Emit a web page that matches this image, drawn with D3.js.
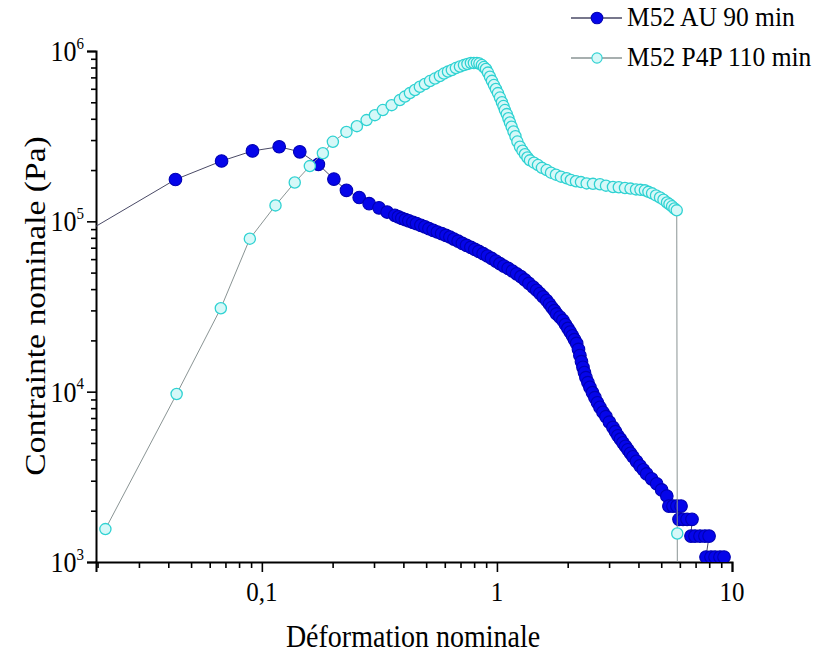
<!DOCTYPE html>
<html>
<head>
<meta charset="utf-8">
<script src="https://cdn.jsdelivr.net/npm/d3@7"></script>
<style>
  html, body { margin: 0; padding: 0; background: #fff; }
  svg { display: block; }
  text { font-family: "Liberation Serif", "Times New Roman", serif; fill: #000; }
</style>
</head>
<body>
<svg id="chart" width="817" height="660"></svg>
<script>
// ---------- data (strain, stress in Pa) ----------
const seriesNames = ["M52 AU 90 min", "M52 P4P 110 min"];

const auStrain = [0.0175, 0.0429, 0.0674, 0.0912, 0.1185, 0.145, 0.174, 0.2025, 0.229, 0.2595,
  0.286, 0.315, 0.341, 0.368, 0.381, 0.394, 0.408, 0.422, 0.439, 0.455,
  0.475, 0.494, 0.514, 0.536, 0.558, 0.582, 0.607, 0.631, 0.656, 0.684,
  0.713, 0.743, 0.775, 0.806, 0.838, 0.874, 0.911, 0.949, 0.990, 1.03,
  1.071, 1.117, 1.164, 1.213, 1.265, 1.316, 1.368, 1.427, 1.476, 1.524,
  1.574, 1.628, 1.673, 1.714, 1.757, 1.795, 1.854, 1.909, 1.957, 2.005,
  2.051, 2.095, 2.138, 2.184, 2.223, 2.254, 2.289, 2.323, 2.357, 2.392,
  2.439, 2.487, 2.55, 2.612, 2.678, 2.743, 2.825, 2.91, 3.01, 3.116,
  3.194, 3.27, 3.354, 3.436, 3.523, 3.607, 3.70, 3.79, 3.924, 4.06,
  4.195, 4.335, 4.55, 4.78, 5.02, 5.28,
  5.39, 5.61, 5.83, 6.07,
  5.95, 6.19, 6.44, 6.76,
  6.69, 6.96, 7.31, 7.67, 7.99,
  7.75, 8.14, 8.47, 8.89, 9.25];
const auStress = [8.5e4, 1.76e5, 2.26e5, 2.59e5, 2.74e5, 2.56e5, 2.16e5, 1.77e5, 1.52e5, 1.38e5,
  1.27e5, 1.2e5, 1.134e5, 1.085e5, 1.063e5, 1.04e5, 1.023e5, 1.007e5, 9.87e4, 9.7e4,
  9.47e4, 9.29e4, 9.06e4, 8.85e4, 8.66e4, 8.47e4, 8.27e4, 8.09e4, 7.87e4, 7.65e4,
  7.42e4, 7.22e4, 7.03e4, 6.84e4, 6.66e4, 6.46e4, 6.26e4, 6.06e4, 5.84e4, 5.64e4,
  5.46e4, 5.29e4, 5.11e4, 4.92e4, 4.73e4, 4.53e4, 4.32e4, 4.11e4, 3.94e4, 3.77e4,
  3.6e4, 3.43e4, 3.27e4, 3.12e4, 2.99e4, 2.86e4, 2.74e4, 2.62e4, 2.48e4, 2.35e4,
  2.24e4, 2.13e4, 2.02e4, 1.92e4, 1.77e4, 1.63e4, 1.50e4, 1.39e4, 1.294e4, 1.209e4,
  1.13e4, 1.06e4, 9.86e3, 9.22e3, 8.61e3, 8.09e3, 7.57e3, 7.13e3, 6.62e3, 6.17e3,
  5.82e3, 5.51e3, 5.26e3, 5.01e3, 4.78e3, 4.56e3, 4.35e3, 4.15e3, 3.90e3, 3.67e3,
  3.48e3, 3.29e3, 3.08e3, 2.88e3, 2.65e3, 2.44e3,
  2.13e3, 2.13e3, 2.13e3, 2.13e3,
  1.78e3, 1.78e3, 1.78e3, 1.78e3,
  1.42e3, 1.42e3, 1.42e3, 1.42e3, 1.42e3,
  1.07e3, 1.07e3, 1.07e3, 1.07e3, 1.07e3];

const p4pStrain = [0.0216, 0.0434, 0.0669, 0.0889, 0.1143, 0.138, 0.16, 0.1818, 0.2005, 0.229,
  0.2537, 0.279, 0.3027, 0.327, 0.3565, 0.3865, 0.406, 0.4265, 0.448, 0.470,
  0.494, 0.519, 0.545, 0.572, 0.595, 0.619, 0.643, 0.669, 0.696, 0.724,
  0.749, 0.775, 0.798, 0.822, 0.842, 0.863, 0.88, 0.898, 0.916, 0.934,
  0.952, 0.971, 0.99, 1.01, 1.03, 1.05, 1.066, 1.081, 1.101, 1.119,
  1.136, 1.155, 1.176, 1.199, 1.222, 1.253, 1.284, 1.316, 1.348, 1.382,
  1.437, 1.495, 1.554, 1.628, 1.698, 1.782, 1.872, 1.98, 2.064, 2.169,
  2.278, 2.408, 2.562, 2.743, 2.91, 3.116, 3.30, 3.505, 3.70, 3.904,
  4.08, 4.26, 4.41, 4.57, 4.75, 4.94, 5.11, 5.29, 5.42, 5.56,
  5.69, 5.82, 5.85, 5.86];
const p4pStress = [1.56e3, 9.69e3, 3.09e4, 7.91e4, 1.24e5, 1.69e5, 2.11e5, 2.51e5, 2.93e5, 3.35e5,
  3.62e5, 3.93e5, 4.2e5, 4.5e5, 4.81e5, 5.15e5, 5.4e5, 5.66e5, 5.9e5, 6.17e5,
  6.4e5, 6.66e5, 6.89e5, 7.13e5, 7.37e5, 7.57e5, 7.73e5, 7.94e5, 8.11e5, 8.27e5,
  8.39e5, 8.5e5, 8.5e5, 8.5e5, 8.44e5, 8.27e5, 8.05e5, 7.84e5, 7.47e5, 7.06e5,
  6.68e5, 6.31e5, 5.98e5, 5.66e5, 5.33e5, 5.01e5, 4.75e5, 4.5e5, 4.26e5, 4.03e5,
  3.81e5, 3.59e5, 3.37e5, 3.16e5, 2.94e5, 2.74e5, 2.60e5, 2.48e5, 2.37e5, 2.28e5,
  2.21e5, 2.14e5, 2.06e5, 2.0e5, 1.93e5, 1.88e5, 1.83e5, 1.79e5, 1.75e5, 1.72e5,
  1.70e5, 1.67e5, 1.66e5, 1.65e5, 1.62e5, 1.59e5, 1.585e5, 1.57e5, 1.557e5, 1.54e5,
  1.53e5, 1.52e5, 1.49e5, 1.46e5, 1.42e5, 1.38e5, 1.34e5, 1.29e5, 1.26e5, 1.225e5,
  1.19e5, 1.16e5, 1.47e3, 4.6e2];

const xMajorTicks = [0.1, 1, 10];
const xTickLabels = ["0,1", "1", "10"];
const yMajorTicks = [1e3, 1e4, 1e5, 1e6];
const yTickExponents = ["3", "4", "5", "6"];
const xTitle = "Déformation nominale";
const yTitle = "Contrainte nominale (Pa)";

// ---------- layout ----------
const svg = d3.select("#chart");
const x = d3.scaleLog().domain([0.0197, 10]).range([96, 732]);
const y = d3.scaleLog().domain([1e3, 1e6]).range([562, 51]);
const TS = 1.12; // vertical text stretch of the reference

svg.append("defs").append("clipPath").attr("id", "plotclip")
  .append("rect").attr("x", 96).attr("y", 30).attr("width", 650).attr("height", 532);

// ---------- axes ----------
const xMinor = [];
[0.01, 0.1, 1].forEach(d => { for (let k = 2; k <= 9; k++) { const v = d * k; if (v > 0.0197 && v < 10) xMinor.push(v); } });
const yMinor = [];
[1e3, 1e4, 1e5].forEach(d => { for (let k = 2; k <= 9; k++) yMinor.push(d * k); });

const xAxisG = svg.append("g").attr("transform", "translate(0,562)");
xAxisG.call(d3.axisBottom(x).tickValues(xMajorTicks).tickSize(10).tickFormat(""));
xAxisG.append("g").call(d3.axisBottom(x).tickValues(xMinor).tickSize(6).tickFormat(""));
const yAxisG = svg.append("g").attr("transform", "translate(96,0)");
yAxisG.call(d3.axisLeft(y).tickValues(yMajorTicks).tickSize(9).tickFormat(""));
yAxisG.append("g").call(d3.axisLeft(y).tickValues(yMinor).tickSize(5).tickFormat(""));
svg.selectAll(".domain").attr("stroke", "#000").attr("stroke-width", 2);
svg.selectAll(".tick line").attr("stroke", "#000").attr("stroke-width", 1.6);
xAxisG.selectAll("g g .domain").remove();
yAxisG.selectAll("g g .domain").remove();

// tick labels
xMajorTicks.forEach((v, i) => {
  svg.append("text").attr("transform", `translate(${x(v)},601) scale(1,${TS})`)
    .attr("text-anchor", "middle").attr("font-size", 25).text(xTickLabels[i]);
});
yMajorTicks.forEach((v, i) => {
  const t = svg.append("text").attr("transform", `translate(84,${y(v) + 10}) scale(1,${TS})`)
    .attr("text-anchor", "end").attr("font-size", 26);
  t.append("tspan").text("10");
  t.append("tspan").attr("dy", -11).attr("font-size", 15).text(yTickExponents[i]);
});

// titles
svg.append("text").attr("transform", `translate(413,647) scale(1,${TS})`)
  .attr("text-anchor", "middle").attr("font-size", 28).text(xTitle);
svg.append("text").attr("transform", `translate(45,306) rotate(-90) scale(${TS},1)`)
  .attr("text-anchor", "middle").attr("font-size", 30).text(yTitle);

// ---------- series ----------
const au = auStrain.map((s, i) => ({ x: s, y: auStress[i] }));
const p4p = p4pStrain.map((s, i) => ({ x: s, y: p4pStress[i] }));
const line = d3.line().x(d => x(d.x)).y(d => y(d.y));
const plot = svg.append("g").attr("clip-path", "url(#plotclip)");

const styles = [
  { data: au, line: "#4a4a66", fill: "#0505ea", stroke: "#0000b4", r: 6.3, sw: 1.1 },
  { data: p4p, line: "#8a9494", fill: "#d6f8f8", stroke: "#2fd2d2", r: 5.6, sw: 1.3 }
];
styles.forEach(s => {
  plot.append("path").datum(s.data).attr("d", line)
    .attr("fill", "none").attr("stroke", s.line).attr("stroke-width", 1);
  plot.append("g").selectAll("circle").data(s.data).join("circle")
    .attr("cx", d => x(d.x)).attr("cy", d => y(d.y)).attr("r", s.r)
    .attr("fill", s.fill).attr("stroke", s.stroke).attr("stroke-width", s.sw);
});

// ---------- legend ----------
const legendRows = [{ yy: 18, st: styles[0] }, { yy: 58, st: styles[1] }];
legendRows.forEach((row, i) => {
  const g = svg.append("g");
  g.append("line").attr("x1", 571).attr("x2", 622).attr("y1", row.yy).attr("y2", row.yy)
    .attr("stroke", row.st.line).attr("stroke-width", 1.3);
  g.append("circle").attr("cx", 597).attr("cy", row.yy).attr("r", row.st.r - 0.5)
    .attr("fill", row.st.fill).attr("stroke", row.st.stroke).attr("stroke-width", 1.1);
  g.append("text").attr("transform", `translate(627,${row.yy + 8}) scale(1,1.05)`)
    .attr("font-size", 25.5).text(seriesNames[i]);
});
</script>
</body>
</html>
